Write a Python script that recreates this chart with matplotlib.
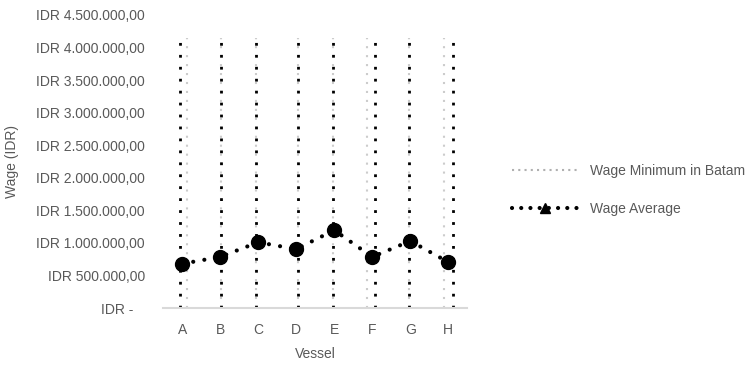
import matplotlib
matplotlib.use('Agg')
import matplotlib.pyplot as plt
from matplotlib.lines import Line2D
from matplotlib.ticker import FuncFormatter

# data
vessels = ['A', 'B', 'C', 'D', 'E', 'F', 'G', 'H']
wage_avg = [680000, 785000, 1010000, 905000, 1195000, 785000, 1030000, 705000]
wage_min = [4150930] * 8
# the vertical dotted lines are a bit shifted from the category centre
shift_dark = [-0.05, 0.03, -0.05, 0.05, -0.03, 0.08, -0.03, 0.11]
shift_light = [0.13, 0.03, -0.05, 0.05, -0.03, -0.15, -0.03, -0.11]

plt.rcParams['font.family'] = ['Liberation Sans', 'DejaVu Sans']
grey = '#595959'

fig = plt.figure(figsize=(7.55, 3.65), dpi=100)
ax = fig.add_axes([0.216, 0.156, 0.403, 0.803])

x = list(range(len(vessels)))
dot = (0, (1, 3.3))

# wage minimum shown as drop lines
ax.vlines([i + s for i, s in zip(x, shift_light)], 0, wage_min,
          colors='#cccccc', linestyles=dot, linewidth=1.5)
ax.vlines([i + s for i, s in zip(x, shift_dark)], 0, wage_min,
          colors='black', linestyles=dot, linewidth=2)

ax.plot(x, wage_avg, color='black', linestyle=(0, (0.01, 2.7)), linewidth=3,
        marker='o', markersize=10, markerfacecolor='black',
        markeredgecolor='black', dash_capstyle='round')

ax.set_xlim(-0.5, len(vessels) - 0.5)
ax.set_ylim(0, 4500000)
ax.set_yticks(range(0, 4500001, 500000))
ax.set_xticks(x)
ax.set_xticklabels(vessels)


def idr(v, pos):
    if v == 0:
        return 'IDR -   '
    s = '{:,.2f}'.format(v).replace(',', '#').replace('.', ',').replace('#', '.')
    return 'IDR ' + s


ax.yaxis.set_major_formatter(FuncFormatter(idr))
for sp in ['top', 'right', 'left']:
    ax.spines[sp].set_visible(False)
ax.spines['bottom'].set_color('#d9d9d9')
ax.spines['bottom'].set_linewidth(1.5)
ax.tick_params(axis='both', length=0, colors=grey, labelsize=10)
ax.tick_params(axis='y', pad=13)
ax.tick_params(axis='x', pad=11)
ax.set_xlabel('Vessel', color=grey, fontsize=10, labelpad=7)
ax.set_ylabel('Wage (IDR)', color=grey, fontsize=10)
ax.yaxis.set_label_coords(-0.474, 0.5)

handles = [
    Line2D([], [], color='#b0b0b0', linestyle=(0, (1, 2)), linewidth=1.5),
    Line2D([], [], color='black', linestyle=(0, (0.01, 2.2)), linewidth=3,
           dash_capstyle='round', marker='^', markersize=7),
]
fig.legend(handles, ['Wage Minimum in Batam', 'Wage Average'],
           loc='center left', bbox_to_anchor=(0.662, 0.48), frameon=False,
           handlelength=4.7, handletextpad=0.86, labelspacing=1.75,
           fontsize=10, labelcolor=grey)

fig.savefig('out.png', dpi=100)
